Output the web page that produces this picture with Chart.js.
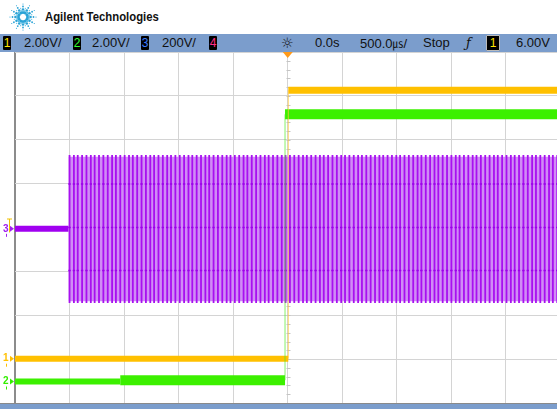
<!DOCTYPE html>
<html><head><meta charset="utf-8">
<script src="https://cdn.jsdelivr.net/npm/chart.js@4/dist/chart.umd.min.js"></script>
<style>
html,body{margin:0;padding:0;width:557px;height:409px;overflow:hidden;background:#fff;font-family:"Liberation Sans",Arial,sans-serif;}
#cv{position:absolute;left:0;top:0;}
#hdr{position:absolute;left:0;top:0;width:557px;height:34px;background:#fff;}
#logo{position:absolute;left:8px;top:2px;}
#brand{position:absolute;left:45px;top:9px;font-weight:bold;font-size:13.5px;transform:scaleX(0.84);transform-origin:0 0;color:#111;white-space:nowrap;}
#bar{position:absolute;left:0;top:34px;width:557px;height:18px;background:#7b9dcc;}
.t{position:absolute;top:1px;font-size:13px;color:#111;line-height:16px;white-space:nowrap;}
.b{position:absolute;top:2px;width:8px;height:14px;background:#000;border-radius:1px;font-size:12px;line-height:14px;text-align:center;}
#bot{position:absolute;left:0;top:403px;width:557px;height:6px;background:#7b9dcc;border-top:1px solid #8a8a8a;box-sizing:border-box;}
</style></head>
<body>
<canvas id="cv" width="566" height="409"></canvas>
<div id="hdr"><svg id="logo" width="30" height="30" viewBox="0 0 30 30"></svg><div id="brand">Agilent Technologies</div></div>
<div id="bar">
  <div class="b" style="left:3px;color:#ffe600">1</div><div class="t" style="left:24px">2.00V/</div>
  <div class="b" style="left:73px;color:#33ff33">2</div><div class="t" style="left:92px">2.00V/</div>
  <div class="b" style="left:141px;color:#3b7dff">3</div><div class="t" style="left:162px">200V/</div>
  <div class="b" style="left:209px;color:#ff2d8a">4</div>
  <div class="t" style="left:281px;font-size:14px;font-family:'DejaVu Sans'">☼</div>
  <div class="t" style="left:315px">0.0s</div>
  <div class="t" style="left:360px">500.0<span style="font-family:'Noto Sans CJK JP';font-size:11px">㎲</span>/</div>
  <div class="t" style="left:423px">Stop</div>
  <div class="t" style="left:466px;font-style:italic;font-family:'DejaVu Serif'">ƒ</div>
  <div class="b" style="left:486px;width:12px;height:14px;border:1px solid #bbb;top:1px;color:#ffe600">1</div>
  <div class="t" style="left:516px">6.00V</div>
</div>
<div id="bot"></div>
<script>
// ---- data (screen divisions: x 0..10, y -4..4) ----
const gridX = [0,1,2,3,4,5,6,7,8,9,10];
const gridY = [-4,-3,-2,-1,0,1,2,3,4];
// Channel 1 (orange): start, edge, end times; low / high level
const ch1X = [0.00, 5.01, 10.00];
const ch1Y = [-2.99, 3.13];
// Channel 2 (green): start, noise increase, edge, end; low(quiet), low(noisy), high
const ch2X = [0.00, 1.93, 4.95, 10.00];
const ch2Y = [-3.51, -3.48, 2.58];
// Channel 3 (purple): start, burst start, end; baseline, band top, band bottom
const ch3X = [0.00, 0.98, 10.00];
const ch3Y = [-0.03, 1.65, -1.72];
// intermediate switching levels of the burst
const ch3Levels = [0.99, 0.00, -0.98];
// positions of the bright switching edges inside the burst
const ch3Strokes = [1.00,1.08,1.15,1.23,1.31,1.39,1.46,1.54,1.62,1.70,1.78,1.85,1.93,2.01,2.09,2.16,2.24,2.32,2.40,2.48,
2.55,2.63,2.71,2.79,2.86,2.94,3.02,3.10,3.18,3.25,3.33,3.41,3.49,3.56,3.64,3.72,3.80,3.88,3.95,4.03,4.11,4.19,4.26,4.34,
4.42,4.50,4.58,4.65,4.73,4.81,4.89,4.96,5.04,5.12,5.20,5.28,5.35,5.43,5.51,5.59,5.66,5.74,5.82,5.90,5.98,6.05,6.13,6.21,
6.29,6.36,6.44,6.52,6.60,6.68,6.75,6.83,6.91,6.99,7.06,7.14,7.22,7.30,7.38,7.45,7.53,7.61,7.69,7.76,7.84,7.92,8.00,8.08,
8.15,8.23,8.31,8.39,8.46,8.54,8.62,8.70,8.78,8.85,8.93,9.01,9.09,9.16,9.24,9.32,9.40,9.48,9.55,9.63,9.71,9.79,9.86,9.94];
const groundMarks = [{label:'1', y:-2.99, color:'#ffc000'},{label:'2', y:-3.51, color:'#33ee00'},{label:'3', y:-0.03, color:'#a020f0'}];

// ---- logo (decoration) ----
(function(){
  const svg=document.getElementById('logo'); let s='';
  for(let k=0;k<12;k++){const a=k*Math.PI/6; [[4.5,1.5],[7.5,1.3],[10.5,0.9],[13,0.6]].forEach(([r,sz])=>{s+=`<circle cx="${15+r*Math.cos(a)}" cy="${15+r*Math.sin(a)}" r="${sz}" fill="#2aa3d6"/>`;});}
  for(let k=0;k<12;k++){const a=(k+0.5)*Math.PI/6; [[6,0.9],[9,0.6]].forEach(([r,sz])=>{s+=`<circle cx="${15+r*Math.cos(a)}" cy="${15+r*Math.sin(a)}" r="${sz}" fill="#55bbe3"/>`;});}
  svg.innerHTML=s;
})();

const pts=(xs,y)=>xs.map(x=>({x,y}));
const strokeData=[]; ch3Strokes.forEach(x=>{strokeData.push({x,y:ch3Y[1]},{x,y:ch3Y[2]},{x,y:null});});
const levelData=[]; ch3Strokes.forEach(x=>ch3Levels.forEach(l=>levelData.push({x,y:l})));

const line=(data,color,w,order,extra)=>Object.assign({type:'line',data,borderColor:color,borderWidth:w,pointRadius:0,tension:0,fill:false,order,spanGaps:false},extra||{});

const decor={
  id:'decor',
  beforeDatasetsDraw(chart){
    const {ctx,scales:{x,y}}=chart; const cx=Math.round(x.getPixelForValue(5))+0.5, cy=Math.round(y.getPixelForValue(0))+0.5;
    ctx.save(); ctx.strokeStyle='#c4c4c4'; ctx.lineWidth=1;
    for(let i=0;i<=50;i++){const px=Math.round(x.getPixelForValue(i*0.2))+0.5; ctx.beginPath(); ctx.moveTo(px,cy-2); ctx.lineTo(px,cy+2); ctx.stroke();}
    for(let i=0;i<=40;i++){const py=Math.round(y.getPixelForValue(-4+i*0.2))+0.5; ctx.beginPath(); ctx.moveTo(cx-2,py); ctx.lineTo(cx+2,py); ctx.stroke();}
    ctx.restore();
  },
  afterDraw(chart){
    const {ctx,scales:{x,y}}=chart; ctx.save();
    const tx=x.getPixelForValue(5), ty=y.getPixelForValue(4);
    ctx.fillStyle='#ff9a1a'; ctx.beginPath(); ctx.moveTo(tx-5,ty); ctx.lineTo(tx+5,ty); ctx.lineTo(tx,ty+6); ctx.closePath(); ctx.fill();
    ctx.font='bold 10px "Liberation Sans"'; ctx.textBaseline='middle';
    groundMarks.forEach(m=>{const py=y.getPixelForValue(m.y); ctx.fillStyle=m.color; ctx.fillText(m.label,3,py);
      ctx.beginPath(); ctx.moveTo(10,py-3); ctx.lineTo(14,py); ctx.lineTo(10,py+3); ctx.closePath(); ctx.fill();
      ctx.fillRect(6,py+5,1,3);});
    const py3=y.getPixelForValue(0); ctx.strokeStyle='#f0c000'; ctx.lineWidth=1;
    ctx.beginPath(); ctx.moveTo(7,py3-8.5); ctx.lineTo(12,py3-8.5); ctx.moveTo(9.5,py3-8.5); ctx.lineTo(9.5,py3+5); ctx.stroke();
    ctx.restore();
  }
};

new Chart(document.getElementById('cv'),{
  data:{datasets:[
    line(pts([ch1X[0],ch1X[1]],ch1Y[0]),'#ffc000',6,1),
    line(pts([ch1X[1],ch1X[2]],ch1Y[1]),'#ffc000',7,1),
    line([{x:ch1X[1],y:ch1Y[0]},{x:ch1X[1],y:ch1Y[1]}],'rgba(255,200,60,0.75)',1,0),
    line(pts([ch2X[0],ch2X[1]],ch2Y[0]),'#3cf000',6,2),
    line(pts([ch2X[1],ch2X[2]],ch2Y[1]),'#3cf000',10,2),
    line(pts([ch2X[2],ch2X[3]],ch2Y[2]),'#3cf000',10,2),
    line([{x:ch2X[2],y:ch2Y[1]},{x:ch2X[2],y:ch2Y[2]}],'rgba(80,235,40,0.7)',1,0),
    line(pts([ch3X[0],ch3X[1]],ch3Y[0]),'#a000f0',6,5),
    line(pts([ch3X[1],ch3X[2]],ch3Y[1]-0.04),'rgba(0,0,0,0)',0,8,{fill:'+1',backgroundColor:'#d08cf5'}),
    line(pts([ch3X[1],ch3X[2]],ch3Y[2]+0.04),'rgba(0,0,0,0)',0,9),
    line(strokeData,'#a810f0',1.8,6),
    {type:'scatter',data:levelData,pointStyle:'line',pointRadius:1.2,borderColor:'#9a00e8',borderWidth:1.5,backgroundColor:'#9a00e8',order:5}
  ]},
  options:{
    responsive:false, animation:false, devicePixelRatio:1,
    layout:{padding:{left:15,right:1,top:52,bottom:6}},
    plugins:{legend:{display:false},tooltip:{enabled:false}},
    scales:{
      x:{type:'linear',min:gridX[0],max:gridX[gridX.length-1],afterBuildTicks:s=>{s.ticks=gridX.map(v=>({value:v}));},
         ticks:{display:false},border:{display:false},
         grid:{drawTicks:false,color:c=>c.tick&&c.tick.value===0?'#8c8c8c':'#d4d4d4',lineWidth:c=>c.tick&&c.tick.value===0?2:1}},
      y:{type:'linear',min:gridY[0],max:gridY[gridY.length-1],afterBuildTicks:s=>{s.ticks=gridY.map(v=>({value:v}));},
         ticks:{display:false},border:{display:false},
         grid:{drawTicks:false,color:'#d4d4d4',lineWidth:1}}
    }
  },
  plugins:[decor]
});
</script>
</body></html>
